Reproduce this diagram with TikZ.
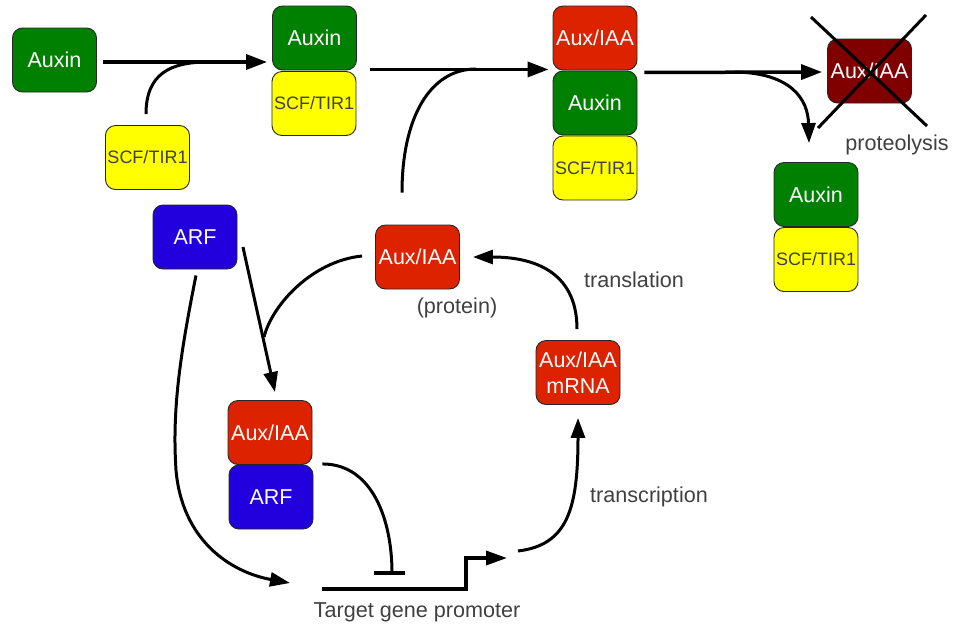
\documentclass[tikz,border=0pt]{standalone}
\usepackage{fontspec}
\setmainfont{Liberation Sans}
\usetikzlibrary{arrows.meta,calc}
\definecolor{cgreen}{RGB}{0,128,0}
\definecolor{cred}{RGB}{221,34,0}
\definecolor{cblue}{RGB}{34,0,221}
\definecolor{cyellow}{RGB}{255,255,0}
\definecolor{cdark}{RGB}{128,0,0}
\definecolor{cgray}{RGB}{64,64,64}
\tikzset{
  box/.style={draw=black!85, line width=0.9pt, rounded corners=10pt,
    minimum width=84pt, minimum height=64pt, inner sep=0pt,
    font=\fontsize{21.5}{26}\selectfont, text=white, align=center},
  greenbox/.style={box, fill=cgreen},
  redbox/.style={box, fill=cred},
  bluebox/.style={box, fill=cblue},
  darkbox/.style={box, fill=cdark},
  yellowbox/.style={box, fill=cyellow, text=cgray, font=\fontsize{18}{22}\selectfont},
  lbl/.style={text=cgray, font=\fontsize{21.6}{26}\selectfont, inner sep=0pt},
  arr/.style={line width=3.5pt, -{Triangle[length=21pt,width=15pt]}},
  curvearr/.style={line width=3pt, -{Triangle[length=20pt,width=14pt]}},
  plain/.style={line width=3pt},
}
\begin{document}
\begin{tikzpicture}[x=1pt,y=-1pt]
\useasboundingbox (0,0) rectangle (955,630);
% nodes
\node[greenbox] (aux1) at (54.5,60) {Auxin};
\node[yellowbox] (scf1) at (147.5,157.5) {SCF/TIR1};
\node[greenbox] (aux2) at (314.5,38) {Auxin};
\node[yellowbox] (scf2) at (314,103.5) {SCF/TIR1};
\node[redbox] (iaa1) at (595,38) {Aux/IAA};
\node[greenbox] (aux3) at (595,103) {Auxin};
\node[yellowbox] (scf3) at (595,168) {SCF/TIR1};
\node[darkbox] (dead) at (869.5,71) {Aux/IAA};
\node[greenbox] (aux4) at (816,194.5) {Auxin};
\node[yellowbox] (scf4) at (816,259.5) {SCF/TIR1};
\node[bluebox] (arf1) at (195,237) {ARF};
\node[redbox] (prot) at (417.5,257) {Aux/IAA};
\node[redbox] (mrna) at (578,372.5) {Aux/IAA\\mRNA};
\node[redbox] (iaa2) at (270,432.5) {Aux/IAA};
\node[bluebox] (arf2) at (271,497) {ARF};
% labels
\node[lbl] (lprot) at (457,308) {(protein)};
\node[lbl] (ltransl) at (634,280) {translation};
\node[lbl] (ltransc) at (649,497) {transcription};
\node[lbl] (lproteo) at (897,145) {proteolysis};
\node[lbl] (lprom) at (417,612) {Target gene promoter};
% cross
\draw[line width=3pt] ($(dead)+(-58.5,-54)$) -- ($(dead)+(57.5,55)$);
\draw[line width=3pt] ($(dead)+(56.5,-56)$) -- ($(dead)+(-51.5,57)$);
% top row arrows
\draw[arr] ($(aux1.east)+(6,2)$) -- ($(aux2.west)+(-5,24)$);
\draw[plain] ($(scf1.north)+(-1.5,-11)$) .. controls +(0,-40) and (170,62) .. (208,62);
\draw[arr] ($(aux2.south east)+(13,-1)$) -- ($(iaa1.south west)+(-4,-1)$);
\draw[plain] ($(prot.north)+(-15.5,-32)$) .. controls +(0,-75) and (430,69) .. (476,69);
\draw[arr] ($(iaa1.south east)+(7,2)$) -- ($(dead.west)+(-5,1)$);
\draw[curvearr] (735,72) .. controls (792,73) and (808,100) .. ($(aux4.north)+(-7,-19)$);
% ARF arrows
\draw[curvearr] ($(arf1.east)+(5.5,10)$) -- ($(iaa2.north)+(5,-8)$);
\draw[plain] ($(prot.west)+(-13,-1)$) .. controls +(-50,5) and (272,305) .. (264,337);
\coordinate (promL) at (322,589);
\draw[curvearr] ($(arf1.south)+(1,6)$) .. controls +(-16,80) and (172,410) .. (176,470)
  .. controls (182,540) and (230,572) .. ($(promL)+(-32,-6)$);
% inhibition
\draw[line width=3pt] ($(iaa2.south east)+(10,-1)$) .. controls +(50,0) and (392,520) .. (392,573);
\draw[line width=3.5pt] (374,573) -- (405,573);
% promoter
\coordinate (promR) at (466,589);
\draw[line width=3.5pt, -{Triangle[length=21pt,width=14pt]}] (promL) -- (promR) -- ++(0,-31) -- ++(41,0);
% transcription / translation
\draw[curvearr] (518,551) .. controls (567,545) and (578,510) .. ($(mrna.south)+(0,13)$);
\draw[curvearr] ($(mrna.north)+(-1,-11)$) .. controls +(0,-60) and (530,257) .. ($(prot.east)+(13,0)$);
\end{tikzpicture}
\end{document}
